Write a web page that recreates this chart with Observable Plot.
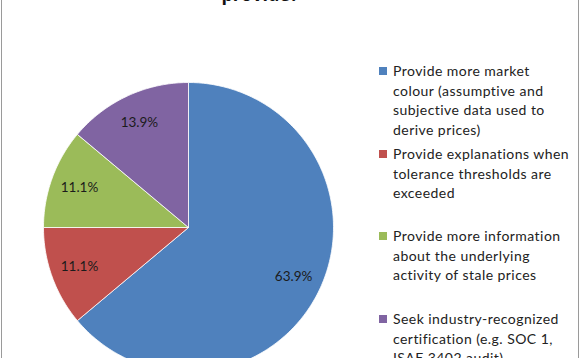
<!DOCTYPE html>
<html>
<head>
<meta charset="utf-8">
<script src="https://cdn.jsdelivr.net/npm/d3@7"></script>
<script src="https://cdn.jsdelivr.net/npm/@observablehq/plot@0.6"></script>
<style>
  html, body { margin: 0; padding: 0; background: #fff; }
  #frame { position: relative; width: 576px; height: 358px; margin-left: 1px; border-left: 1px solid #9a9a9a; border-right: 1px solid #9a9a9a; overflow: hidden; background: #fff; }
  #title { position: absolute; left: 0; top: -16px; width: 516px; text-align: center; font: bold 18px "Open Sans", sans-serif; color: #111; line-height: 20px; }
  #chart { position: absolute; left: -1px; top: 0; }
  #legend { position: absolute; left: 377px; top: 0; font: 14px Lato, "Open Sans", sans-serif; letter-spacing: 0.45px; color: #222; }
  .item { position: absolute; left: 0; width: 200px; line-height: 19.5px; }
  .sw { position: absolute; left: 0; width: 8px; height: 8px; }
  .txt { position: absolute; left: 14px; white-space: nowrap; }
</style>
</head>
<body>
<div id="frame">
  <div id="chart"></div>
  <div id="title">provide?</div>
  <div id="legend"></div>
</div>
<script>
const categories = [
  "Provide more market colour (assumptive and subjective data used to derive prices)",
  "Provide explanations when tolerance thresholds are exceeded",
  "Provide more information about the underlying activity of stale prices",
  "Seek industry-recognized certification (e.g. SOC 1, ISAE 3402 audit)"
];
const legendLines = [
  ["Provide more market", "colour (assumptive and", "subjective data used to", "derive prices)"],
  ["Provide explanations when", "tolerance thresholds are", "exceeded"],
  ["Provide more information", "about the underlying", "activity of stale prices"],
  ["Seek industry-recognized", "certification (e.g. SOC 1,", "ISAE 3402 audit)"]
];
const values = [63.9, 11.1, 11.1, 13.9];
const labels = ["63.9%", "11.1%", "11.1%", "13.9%"];
const colors = ["#4F81BD", "#C0504D", "#9BBB59", "#8064A2"];
const legendTops = [61, 144, 226, 309];

// pie geometry via d3.pie (clockwise from 12 o'clock, Excel order)
const arcs = d3.pie().sort(null).value(d => d.value)(categories.map((c, i) => ({cat: c, value: values[i], label: labels[i]})));

const polyPts = [];
arcs.forEach(a => {
  polyPts.push({cat: a.data.cat, x: 0, y: 0});
  const n = Math.max(2, Math.ceil((a.endAngle - a.startAngle) / (Math.PI / 180)));
  for (let k = 0; k <= n; k++) {
    const t = a.startAngle + (a.endAngle - a.startAngle) * k / n;
    polyPts.push({cat: a.data.cat, x: Math.sin(t), y: Math.cos(t)});
  }
  polyPts.push({cat: a.data.cat, x: 0, y: 0});
});
const labelPts = arcs.map(a => {
  const m = (a.startAngle + a.endAngle) / 2;
  return {label: a.data.label, x: 0.8 * Math.sin(m), y: 0.8 * Math.cos(m)};
});

const R = 145, cx = 187, cy = 227;
const plot = Plot.plot({
  width: 360,
  height: 358,
  margin: 0,
  x: {domain: [-1, 1], range: [cx - R, cx + R], axis: null},
  y: {domain: [-1, 1], range: [cy + R, cy - R], axis: null},
  color: {domain: categories, range: colors},
  style: {background: "transparent", overflow: "hidden"},
  marks: [
    Plot.line(polyPts, {x: "x", y: "y", z: "cat", fill: "cat", stroke: "#fff", strokeWidth: 0.8, curve: "linear"}),
    Plot.text(labelPts, {x: "x", y: "y", text: "label", fill: "#1b1b1b", fontSize: 13.5, fontFamily: "Lato, 'Open Sans', sans-serif"})
  ]
});
document.getElementById("chart").appendChild(plot);

const leg = document.getElementById("legend");
legendLines.forEach((lines, i) => {
  const it = document.createElement("div");
  it.className = "item";
  it.style.top = legendTops[i] + "px";
  const sw = document.createElement("div");
  sw.className = "sw";
  sw.style.background = colors[i];
  sw.style.top = "6px";
  it.appendChild(sw);
  lines.forEach((l, j) => {
    const t = document.createElement("div");
    t.className = "txt";
    t.style.top = (j * 19.7) + "px";
    t.textContent = l;
    it.appendChild(t);
  });
  leg.appendChild(it);
});
</script>
</body>
</html>
